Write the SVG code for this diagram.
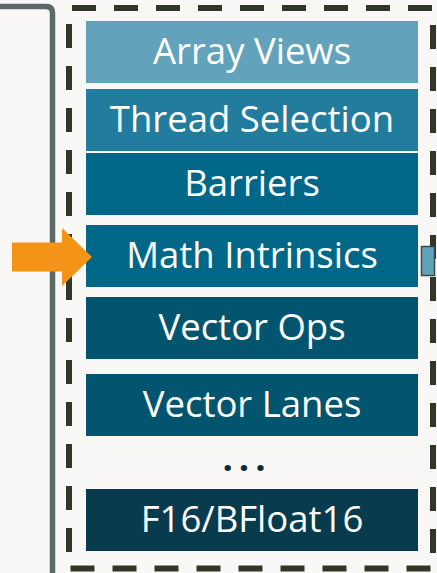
<svg xmlns="http://www.w3.org/2000/svg" width="437" height="573" viewBox="0 0 437 573">
  <style>
    .lbl { font-family: "Open Sans", "Noto Sans", "DejaVu Sans", sans-serif; font-size: 36.5px; fill: #ffffff; text-anchor: middle; }
    .dots { font-family: "Open Sans", "Noto Sans", "DejaVu Sans", sans-serif; font-size: 36.5px; font-weight: 700; fill: #0b2a35; text-anchor: middle; letter-spacing: 6px; }
  </style>
  <rect x="0" y="0" width="437" height="573" fill="#f9f8f6"/>

  <!-- neighbouring panel, cropped at the left -->
  <g id="left-panel">
    <path d="M -10 6.5 H 46 Q 52.5 6.5 52.5 13 V 580" fill="none" stroke="#5b6867" stroke-width="5.5"/>
  </g>

  <!-- dashed container -->
  <g id="container">
    <rect x="69" y="8" width="364" height="560.5" fill="none" stroke="#333526" stroke-width="6" stroke-dasharray="24 18" stroke-dashoffset="-3"/>
  </g>

  <g id="array-views"><rect x="86" y="21" width="332" height="62" fill="#62a3bb"/><text class="lbl" x="252" y="63.5">Array Views</text></g>
  <g id="thread-selection"><rect x="86" y="89" width="332" height="62" fill="#227c9d"/><text class="lbl" x="252" y="131.5">Thread Selection</text></g>
  <g id="barriers"><rect x="86" y="153" width="332" height="62" fill="#016788"/><text class="lbl" x="252" y="195.5">Barriers</text></g>
  <g id="math-intrinsics"><rect x="86" y="225" width="332" height="62" fill="#016788"/><text class="lbl" x="252" y="267.5">Math Intrinsics</text></g>
  <g id="vector-ops"><rect x="86" y="297" width="332" height="62" fill="#03546e"/><text class="lbl" x="252" y="339.5">Vector Ops</text></g>
  <g id="vector-lanes"><rect x="86" y="374" width="332" height="62" fill="#03546e"/><text class="lbl" x="252" y="416.5">Vector Lanes</text></g>
  <g id="ellipsis"><text class="dots" x="247" y="470.5">...</text></g>
  <g id="f16-bfloat16"><rect x="86" y="489" width="332" height="62" fill="#083b4d"/><text class="lbl" x="252" y="531.5">F16/BFloat16</text></g>

  <!-- port on the right edge -->
  <g id="port">
    <rect x="421.5" y="246.5" width="13" height="29" fill="#62a3bb" stroke="#3a4a45" stroke-width="1.5"/>
  </g>

  <g id="connectors">
    <polygon points="12,242.5 62,242.5 62,228 92,257 62,286 62,271.5 12,271.5" fill="#f39418"/>
  </g>
</svg>
